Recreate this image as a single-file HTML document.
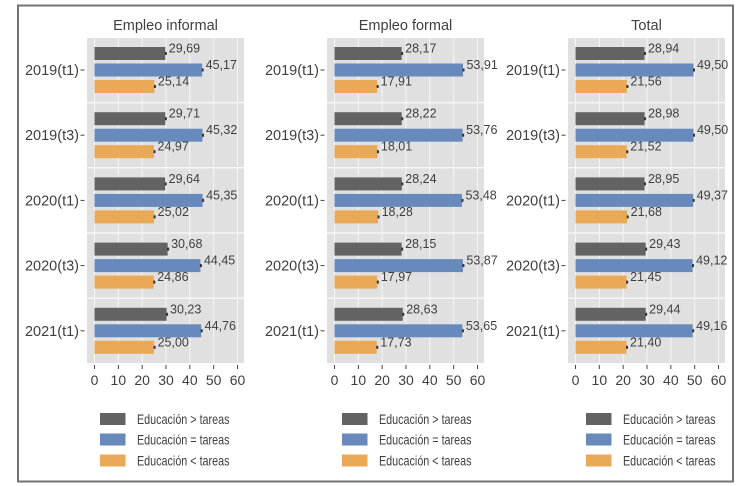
<!DOCTYPE html>
<html lang="es">
<head>
<meta charset="utf-8">
<title>Educación y tareas por tipo de empleo</title>
<style>
html,body{margin:0;padding:0;background:#fff;}
svg{display:block;font-family:"Liberation Sans",sans-serif;}
text{fill:#3f3f3f;}
</style>
</head>
<body>
<svg id="chart" width="745" height="486" viewBox="0 0 745 486" xmlns="http://www.w3.org/2000/svg">
  <rect x="18" y="5.5" width="715" height="476" fill="#fff" stroke="#737373" stroke-width="2"/>
</svg>
<script>
const periods = ["2019(t1)", "2019(t3)", "2020(t1)", "2020(t3)", "2021(t1)"];
const xTicks = [0, 10, 20, 30, 40, 50, 60];
const seriesNames = ["Educación > tareas", "Educación = tareas", "Educación < tareas"];
const panelTitles = ["Empleo informal", "Empleo formal", "Total"];

const informalOver = [29.69, 29.71, 29.64, 30.68, 30.23];
const informalMatch = [45.17, 45.32, 45.35, 44.45, 44.76];
const informalUnder = [25.14, 24.97, 25.02, 24.86, 25.00];

const formalOver = [28.17, 28.22, 28.24, 28.15, 28.63];
const formalMatch = [53.91, 53.76, 53.48, 53.87, 53.65];
const formalUnder = [17.91, 18.01, 18.28, 17.97, 17.73];

const totalOver = [28.94, 28.98, 28.95, 29.43, 29.44];
const totalMatch = [49.50, 49.50, 49.37, 49.12, 49.16];
const totalUnder = [21.56, 21.52, 21.68, 21.45, 21.40];

const panelSeries = [
  [informalOver, informalMatch, informalUnder],
  [formalOver, formalMatch, formalUnder],
  [totalOver, totalMatch, totalUnder]
];

const svg = document.getElementById('chart');
const NS = 'http://www.w3.org/2000/svg';
const colors = ['#636363', '#6789bc', '#e9a957'];
const panelLeft = [87, 327, 568];
const legendLeft = [100, 342, 586];
const panelWidth = 157;
const plotTop = 38;
const plotBottom = 363;
const rowStep = 65.2;
const barHeight = 13;
const barOffset = [-16.5, 0, 16.5];

function make(parent, tag, attrs, text) {
  const node = document.createElementNS(NS, tag);
  for (const key in attrs) node.setAttribute(key, attrs[key]);
  if (text !== undefined) node.textContent = text;
  parent.appendChild(node);
  return node;
}
function xScale(panel, value) {
  return panelLeft[panel] + 7.5 + value * 143 / 60;
}
function rowCenter(row) {
  return plotTop + 32 + row * rowStep;
}
function formatValue(value) {
  return value.toFixed(2).replace('.', ',');
}

panelTitles.forEach(function (title, p) {
  const group = make(svg, 'g', {});
  
  

  const heading = make(group, 'text', {
    x: panelLeft[p] + panelWidth / 2, y: 30, 'text-anchor': 'middle', 'font-size': 14.5
  }, title);
  
  

  const bg = make(group, 'rect', {
    x: panelLeft[p], y: plotTop, width: panelWidth, height: plotBottom - plotTop, fill: '#e0e0e0'
  });
  
  

  xTicks.forEach(function (tick) {
    const x = xScale(p, tick);
    const grid = make(group, 'line', {
      x1: x, x2: x, y1: plotTop, y2: plotBottom, stroke: '#f6f6f6', 'stroke-width': 1
    });
    
    

    const mark = make(group, 'line', {
      x1: x, x2: x, y1: plotBottom + 2, y2: plotBottom + 6, stroke: '#444', 'stroke-width': 1
    });
    
    

    const label = make(group, 'text', {
      x: x, y: plotBottom + 22, 'text-anchor': 'middle', 'font-size': 14
    }, tick);
    
    
  });

  periods.forEach(function (period, r) {
    const cy = rowCenter(r);

    if (r > 0) {
      const sep = make(group, 'line', {
        x1: panelLeft[p], x2: panelLeft[p] + panelWidth,
        y1: cy - rowStep / 2, y2: cy - rowStep / 2, stroke: '#f6f6f6', 'stroke-width': 1.5
      });
      
      
    }

    const rowLabel = make(group, 'text', {
      x: panelLeft[p] - 8, y: cy + 5, 'text-anchor': 'end', 'font-size': 14.5
    }, period);
    
    

    const rowTick = make(group, 'line', {
      x1: panelLeft[p] - 6.5, x2: panelLeft[p] - 2.5, y1: cy, y2: cy, stroke: '#444', 'stroke-width': 1
    });
    
    

    panelSeries[p].forEach(function (series, s) {
      const value = series[r];
      const x0 = xScale(p, 0);
      const x1 = xScale(p, value);
      const y = cy + barOffset[s];

      const bar = make(group, 'rect', {
        x: x0, y: y - barHeight / 2, width: x1 - x0, height: barHeight, fill: colors[s]
      });
      
      

      const cap = make(group, 'rect', {
        x: x1 - 0.5, y: y - 1.5, width: 2, height: 3, fill: '#333'
      });
      
      

      const valueLabel = make(group, 'text', {
        x: x1 + 3.5, y: y - 1, 'font-size': 12.5
      }, formatValue(value));
      
      
    });
  });

  const legendY = [419, 439.5, 460.5];
  seriesNames.forEach(function (name, s) {
    const swatch = make(group, 'rect', {
      x: legendLeft[p], y: legendY[s] - 6, width: 25.5, height: 12, fill: colors[s]
    });
    
    

    const entry = make(group, 'text', {
      x: legendLeft[p] + 37, y: legendY[s] + 5, 'font-size': 14,
      textLength: 92.5, lengthAdjust: 'spacingAndGlyphs'
    }, name);
    
    
  });
});
</script>
</body>
</html>
